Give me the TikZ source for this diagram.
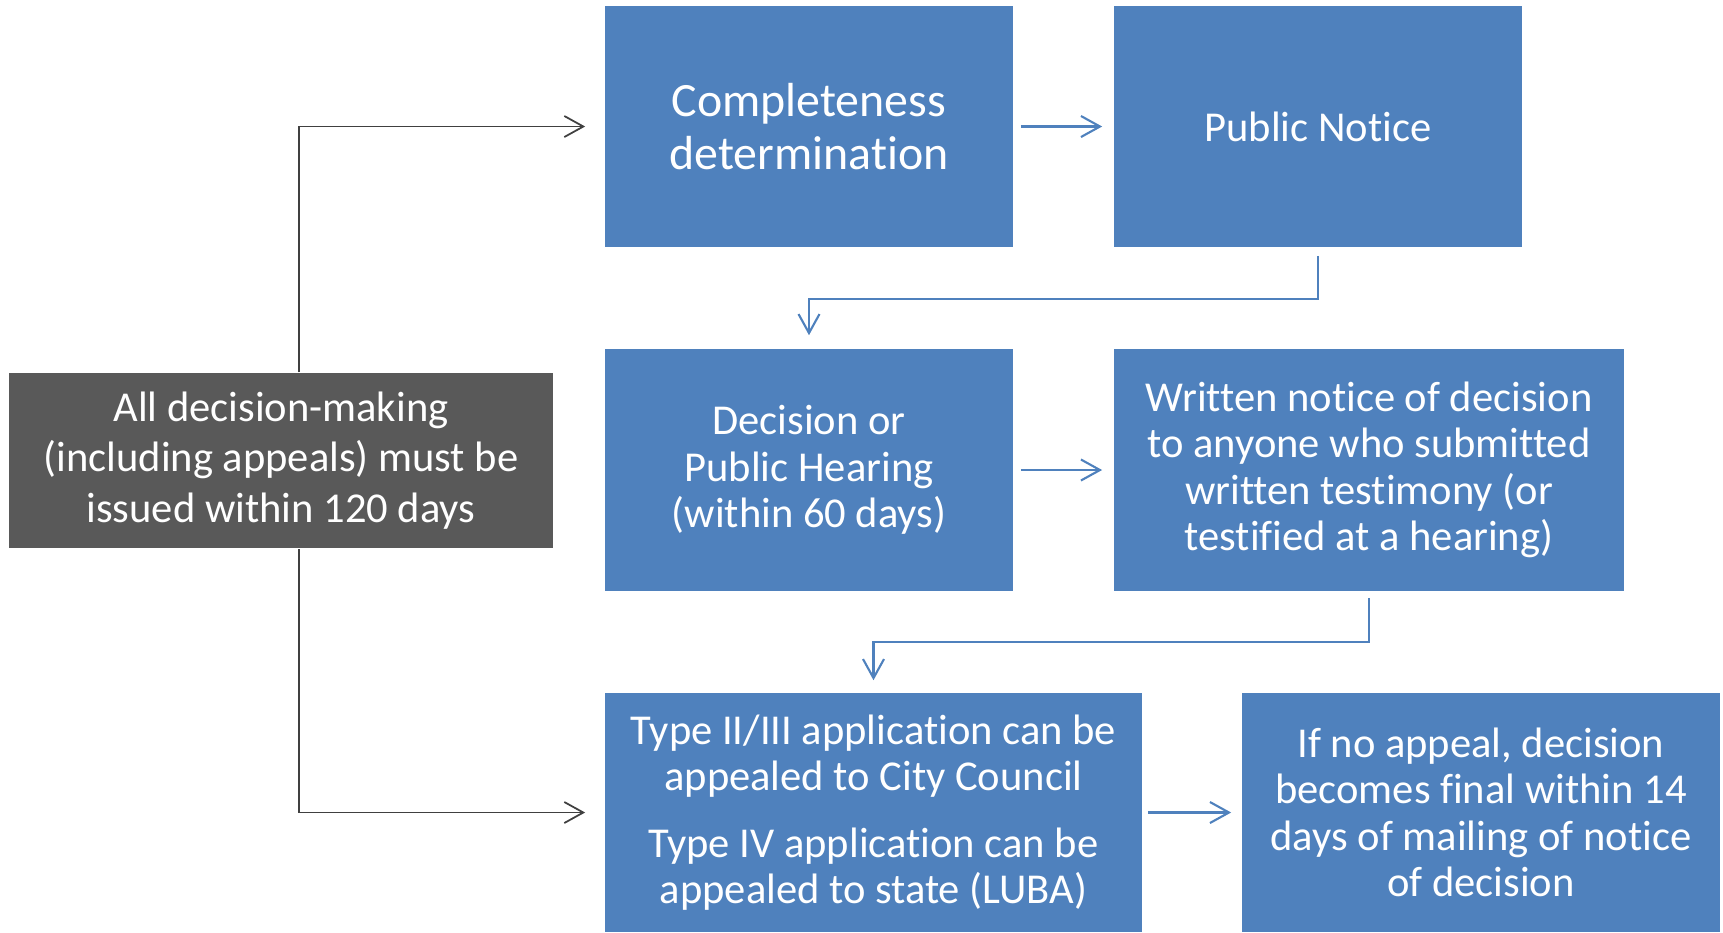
\documentclass[tikz,border=0pt]{standalone}
\usepackage{fontspec}
\setmainfont{Carlito}[Ligatures=NoCommon]
\usepackage{xcolor}
\usepackage{tikz}
\usetikzlibrary{arrows.meta}
\definecolor{boxblue}{HTML}{4F81BD}
\definecolor{boxgray}{HTML}{595959}
\definecolor{linegray}{HTML}{404040}

\begin{document}
\begin{tikzpicture}[x=0.01cm,y=-0.01cm,
    >={Straight Barb[length=1.9mm,width=2.1mm]},
    stepbox/.style={fill=boxblue, text=white, align=center, inner sep=0pt,
        font=\fontsize{12.1}{13.2}\selectfont},
    limitbox/.style={fill=boxgray, text=white, align=center, inner sep=0pt,
        font=\fontsize{12.1}{14.4}\selectfont},
    blueline/.style={->, draw=boxblue, line width=0.6pt},
    grayline/.style={->, draw=linegray, line width=0.5pt}]
    \useasboundingbox (0,0) rectangle (1723,932);

    \node[stepbox, minimum width=4.08cm, minimum height=2.41cm,
        font=\fontsize{13.6}{15}\selectfont] (compl) at (809,126.5) {Completeness\\determination};
    \node[stepbox, minimum width=4.08cm, minimum height=2.41cm] (notice) at (1318,126.5) {Public Notice};

    \node[stepbox, minimum width=4.08cm, minimum height=2.42cm] (decision) at (809,470)
        {Decision or\\Public Hearing\\(within 60 days)};
    \node[stepbox, minimum width=5.10cm, minimum height=2.42cm] (written) at (1369,470)
        {Written notice of decision\\to anyone who submitted\\written testimony (or\\testified at a hearing)};

    \node[stepbox, minimum width=5.37cm, minimum height=2.39cm] (appeal) at (873.5,812.5)
        {Type II/III application can be\\appealed to City Council\\[0.2cm]Type IV application can be\\appealed to state (LUBA)};
    \node[stepbox, minimum width=4.78cm, minimum height=2.39cm] (final) at (1481,812.5)
        {If no appeal, decision\\becomes final within 14\\days of mailing of notice\\of decision};

    \node[limitbox, minimum width=5.44cm, minimum height=1.75cm] (limit) at (281,460.5)
        {All decision-making\\(including appeals) must be\\issued within 120 days};

    \draw[blueline, shorten <=0.07cm, shorten >=0.11cm] (compl.east) -- (notice.west);
    \draw[blueline, shorten <=0.08cm, shorten >=0.13cm] (notice.south) -- ++(0,51) -| (decision.north);
    \draw[blueline, shorten <=0.07cm, shorten >=0.11cm] (decision.east) -- (written.west);
    \draw[blueline, shorten <=0.06cm, shorten >=0.12cm] (written.south) -- ++(0,50) -| (appeal.north);
    \draw[blueline, shorten <=0.05cm, shorten >=0.10cm] (appeal.east) -- (final.west);

    \draw[grayline, shorten >=0.19cm] ([xshift=0.18cm]limit.north) |- (compl.west);
    \draw[grayline, shorten >=0.19cm] ([xshift=0.18cm]limit.south) |- (appeal.west);
\end{tikzpicture}
\end{document}
